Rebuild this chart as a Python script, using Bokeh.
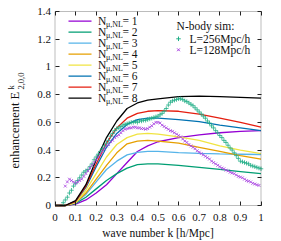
import math
from bokeh.plotting import figure
from bokeh.models import (LinearAxis, FixedTicker, CustomJSTickFormatter, Label, Range1d, BoxAnnotation)
from bokeh.embed import file_html
from bokeh.resources import INLINE

# ---------------- data ----------------
K_TH = [0.0, 0.05, 0.1, 0.15, 0.2, 0.25, 0.3, 0.35, 0.4, 0.45, 0.5, 0.6, 0.7, 0.8, 0.9, 1.0]
N1 = [0.0, 0.0, 0.01, 0.04, 0.09, 0.15, 0.23, 0.31, 0.39, 0.43, 0.46, 0.49, 0.51, 0.525, 0.535, 0.54]
N2 = [0.0, 0.0, 0.015, 0.06, 0.12, 0.18, 0.23, 0.27, 0.295, 0.30, 0.30, 0.29, 0.275, 0.26, 0.245, 0.23]
N3 = [0.0, 0.0, 0.02, 0.08, 0.17, 0.26, 0.32, 0.365, 0.383, 0.39, 0.39, 0.382, 0.376, 0.372, 0.37, 0.368]
N4 = [0.0, 0.0, 0.02, 0.09, 0.19, 0.29, 0.38, 0.445, 0.465, 0.47, 0.465, 0.45, 0.42, 0.39, 0.36, 0.335]
N5 = [0.0, 0.0, 0.02, 0.11, 0.23, 0.35, 0.44, 0.49, 0.515, 0.52, 0.515, 0.495, 0.47, 0.43, 0.40, 0.375]
N6 = [0.0, 0.0, 0.03, 0.13, 0.28, 0.42, 0.52, 0.585, 0.62, 0.63, 0.63, 0.62, 0.605, 0.58, 0.56, 0.54]
N7 = [0.0, 0.0, 0.03, 0.14, 0.30, 0.45, 0.56, 0.63, 0.665, 0.68, 0.685, 0.68, 0.66, 0.63, 0.60, 0.565]
N8 = [0.0, 0.0, 0.035, 0.15, 0.33, 0.49, 0.61, 0.70, 0.74, 0.76, 0.77, 0.785, 0.79, 0.785, 0.78, 0.775]
THEORY = [N1, N2, N3, N4, N5, N6, N7, N8]
THEORY_LABELS = ["1", "2", "3", "4", "5", "6", "7", "8"]
THEORY_COLORS = ["#9400d3", "#009e73", "#56b4e9", "#e69f00", "#f0e442", "#0072b2", "#e51e10", "#000000"]

K_256 = [0.04, 0.05, 0.06, 0.07, 0.08, 0.09, 0.10, 0.11, 0.12, 0.13, 0.14, 0.15, 0.16, 0.17,
         0.18, 0.19, 0.20, 0.21, 0.22, 0.23, 0.24, 0.25, 0.26, 0.27, 0.28, 0.29, 0.30, 0.31,
         0.32, 0.33, 0.34, 0.35, 0.36, 0.37, 0.38, 0.39, 0.40, 0.41, 0.42, 0.43, 0.44, 0.45,
         0.46, 0.47, 0.48, 0.49, 0.50, 0.51, 0.52, 0.53, 0.54, 0.55, 0.56, 0.57, 0.58, 0.59,
         0.60, 0.61, 0.62, 0.63, 0.64, 0.65, 0.66, 0.67, 0.68, 0.69, 0.70, 0.71, 0.72, 0.73,
         0.74, 0.75, 0.76, 0.77, 0.78, 0.79, 0.80, 0.81, 0.82, 0.83, 0.84, 0.85, 0.86, 0.87,
         0.88, 0.89, 0.90, 0.91, 0.92, 0.93, 0.94, 0.95, 0.96, 0.97, 0.98, 0.99, 1.00]
E_256 = [0.02, 0.04, 0.06, 0.09, 0.11, 0.14, 0.16, 0.18, 0.20, 0.22, 0.24, 0.25, 0.26, 0.28,
         0.30, 0.33, 0.35, 0.37, 0.39, 0.41, 0.43, 0.45, 0.47, 0.50, 0.52, 0.54, 0.555, 0.56,
         0.57, 0.58, 0.585, 0.59, 0.595, 0.60, 0.60, 0.605, 0.60, 0.61, 0.61, 0.615, 0.615, 0.62,
         0.625, 0.63, 0.635, 0.64, 0.645, 0.655, 0.665, 0.68, 0.70, 0.725, 0.745, 0.755, 0.76, 0.765,
         0.77, 0.77, 0.765, 0.755, 0.75, 0.74, 0.73, 0.72, 0.705, 0.69, 0.675, 0.66, 0.645, 0.63,
         0.61, 0.595, 0.575, 0.56, 0.54, 0.525, 0.505, 0.49, 0.47, 0.455, 0.435, 0.415, 0.40, 0.38,
         0.36, 0.34, 0.32, 0.315, 0.31, 0.305, 0.30, 0.29, 0.285, 0.28, 0.275, 0.27, 0.265]
K_128 = [0.05, 0.06, 0.07, 0.08, 0.09, 0.10, 0.11, 0.12, 0.13, 0.14, 0.15, 0.16, 0.17, 0.18,
         0.19, 0.20, 0.21, 0.22, 0.23, 0.24, 0.25, 0.26, 0.27, 0.28, 0.29, 0.30, 0.31, 0.32,
         0.33, 0.34, 0.35, 0.36, 0.37, 0.38, 0.39, 0.40, 0.41, 0.42, 0.43, 0.44, 0.45, 0.46,
         0.47, 0.48, 0.49, 0.50, 0.51, 0.52, 0.53, 0.54, 0.55, 0.56, 0.57, 0.58, 0.59, 0.60,
         0.61, 0.62, 0.63, 0.64, 0.65, 0.66, 0.67, 0.68, 0.69, 0.70, 0.71, 0.72, 0.73, 0.74,
         0.75, 0.76, 0.77, 0.78, 0.79, 0.80, 0.81, 0.82, 0.83, 0.84, 0.85, 0.86, 0.87, 0.88,
         0.89, 0.90, 0.91, 0.92, 0.93, 0.94, 0.95, 0.96, 0.97, 0.98, 0.99]
E_128 = [0.14, 0.17, 0.19, 0.18, 0.17, 0.16, 0.17, 0.18, 0.19, 0.21, 0.23, 0.25, 0.27, 0.29,
         0.31, 0.33, 0.35, 0.37, 0.39, 0.41, 0.43, 0.44, 0.46, 0.47, 0.49, 0.50, 0.51, 0.525,
         0.54, 0.55, 0.555, 0.56, 0.56, 0.565, 0.565, 0.56, 0.56, 0.555, 0.555, 0.55, 0.555, 0.565,
         0.575, 0.59, 0.60, 0.60, 0.595, 0.58, 0.57, 0.56, 0.55, 0.54, 0.535, 0.525, 0.515, 0.505,
         0.495, 0.48, 0.465, 0.455, 0.44, 0.43, 0.42, 0.41, 0.395, 0.385, 0.375, 0.365, 0.355, 0.345,
         0.335, 0.32, 0.31, 0.30, 0.29, 0.28, 0.27, 0.265, 0.255, 0.25, 0.24, 0.235, 0.23, 0.22,
         0.21, 0.205, 0.20, 0.19, 0.18, 0.175, 0.17, 0.16, 0.155, 0.15, 0.145]

X_MIN, X_MAX = 0.0, 1.0
Y_MIN, Y_MAX = 0.0, 1.4
X_TICKS = [0.0, 0.1, 0.2, 0.3, 0.4, 0.5, 0.6, 0.7, 0.8, 0.9, 1.0]
Y_TICKS = [0.0, 0.2, 0.4, 0.6, 0.8, 1.0, 1.2, 1.4]
X_LABEL = "wave number k [h/Mpc]"
Y_LABEL = "enhancement E"
SIM_TITLE = "N-body sim:"
SIM_LABELS = ["L=256Mpc/h", "L=128Mpc/h"]

FONT = "Liberation Serif"
TXT = "#111111"
SIM_GREEN = "#1fae86"
SIM_PURPLE = "#a63ee0"

# ---------------- layout (pixels of the figure canvas) ----------------
W, H = 281, 241
BOX_L, BOX_R, BOX_T, BOX_B = 54.5, 260.5, 11.0, 205.0
sx = (BOX_R - BOX_L) / (X_MAX - X_MIN)
sy = (BOX_B - BOX_T) / (Y_MAX - Y_MIN)
x_range = Range1d(X_MIN - BOX_L / sx, X_MAX + (W - BOX_R) / sx)
y_range = Range1d(Y_MIN - (H - BOX_B) / sy, Y_MAX + BOX_T / sy)

def px_x(px):
    return X_MIN + (px - BOX_L) / sx

def px_y(py):
    return Y_MAX - (py - BOX_T) / sy

p = figure(width=W, height=H, output_backend="svg", toolbar_location=None,
           x_range=x_range, y_range=y_range,
           min_border_left=0, min_border_right=0, min_border_top=0, min_border_bottom=0,
           x_axis_location=None, y_axis_location=None)
p.outline_line_color = None
p.grid.visible = False
p.background_fill_color = "white"
p.border_fill_color = "white"

fmt = CustomJSTickFormatter(code="var s = tick.toFixed(1); return s.replace(/\\.0$/, '');")
blank = CustomJSTickFormatter(code="return '';")

def make_axis(ticks, loc, show_labels):
    ax = LinearAxis(ticker=FixedTicker(ticks=ticks), formatter=fmt if show_labels else blank,
                    fixed_location=loc)
    ax.major_tick_in = 4
    ax.major_tick_out = 0
    ax.minor_tick_line_color = None
    ax.axis_line_color = None
    ax.major_tick_line_color = "#222222"
    ax.major_label_text_font = FONT
    ax.major_label_text_font_size = "11px"
    ax.major_label_text_color = TXT
    return ax

bx = make_axis(X_TICKS, Y_MIN, True)
bx.major_label_standoff = 8
p.add_layout(bx, "below")
ly = make_axis(Y_TICKS, X_MIN, True)
ly.major_label_standoff = 4
p.add_layout(ly, "left")
p.add_layout(make_axis(X_TICKS, Y_MAX, False), "above")
p.add_layout(make_axis(Y_TICKS, X_MAX, False), "right")

p.add_layout(BoxAnnotation(left=X_MIN, right=X_MAX, bottom=Y_MIN, top=Y_MAX,
                           fill_alpha=0, line_color="#222222", line_width=1))

# theory curves
for vals, col in zip(THEORY, THEORY_COLORS):
    p.line(K_TH, vals, line_color=col, line_width=1.3)

# simulation points
p.scatter(K_256, E_256, marker="cross", size=4.5, line_color=SIM_GREEN, line_width=1.0, alpha=0.8)
p.scatter(K_128, E_128, marker="x", size=4, line_color=SIM_PURPLE, line_width=1.0, alpha=0.8)

def lab(x, y, text, size="11.5px", align="left", angle=0.0):
    p.add_layout(Label(x=x, y=y, text=text, text_font=FONT, text_font_size=size,
                       text_align=align, text_baseline="middle", text_color=TXT,
                       angle=angle))

# ---------------- legend (theory) ----------------
for i, (t, col) in enumerate(zip(THEORY_LABELS, THEORY_COLORS)):
    y = px_y(20.7 + 11 * i)
    p.line([px_x(68), px_x(91)], [y, y], line_color=col, line_width=1.3)
    lab(px_x(97.5), y, "N")
    lab(px_x(105.5), y - 3.5 / sy, "\u03bc,NL", size="8px")
    lab(px_x(122), y, "= " + t)

# ---------------- legend (simulations) ----------------
lab(px_x(205), px_y(25), SIM_TITLE, align="center")
p.scatter([px_x(178)], [px_y(38.3)], marker="cross", size=4.5, line_color=SIM_GREEN, line_width=1.0)
p.scatter([px_x(178)], [px_y(49.3)], marker="x", size=4, line_color=SIM_PURPLE, line_width=1.0)
lab(px_x(189), px_y(38.3), SIM_LABELS[0])
lab(px_x(189), px_y(49.3), SIM_LABELS[1])

# ---------------- axis titles ----------------
lab(px_x(157.5), px_y(232), X_LABEL, align="center")
lab(px_x(14), px_y(168), Y_LABEL, size="12.5px", align="left", angle=math.pi / 2)
lab(px_x(10.5), px_y(89), "k", size="8.5px", angle=math.pi / 2)
lab(px_x(20.5), px_y(89), "2,0,0", size="8.5px", angle=math.pi / 2)

open("out.html", "w").write(file_html(p, INLINE))
